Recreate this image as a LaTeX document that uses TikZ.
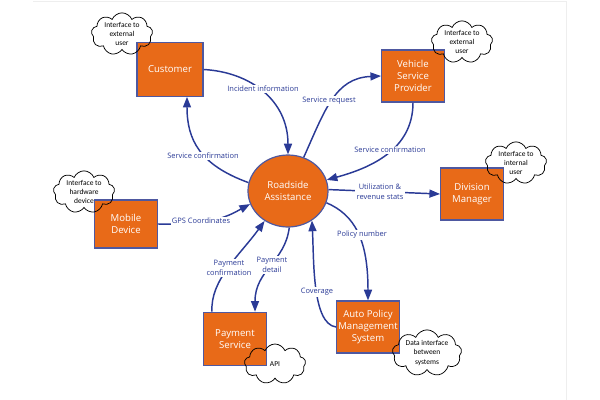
\documentclass[tikz,border=0pt]{standalone}
\usepackage{fontspec}
\setmainfont{Open Sans}
\newfontfamily\cloudfont{Carlito}
\usetikzlibrary{shapes.geometric,shapes.symbols,arrows.meta,calc}
\definecolor{boxorange}{RGB}{232,106,24}
\definecolor{boxborder}{RGB}{78,88,160}
\definecolor{flowblue}{RGB}{42,58,150}
\definecolor{framegray}{RGB}{238,238,238}
\begin{document}
\begin{tikzpicture}[x=0.75pt,y=-0.75pt,
 ent/.style={draw=boxborder, line width=0.9pt, fill=boxorange, text=white, align=center,
   font=\fontsize{7.2}{9.2}\selectfont, minimum width=47pt, minimum height=39pt, inner sep=0pt},
 hub/.style={ellipse, draw=boxborder, line width=0.9pt, fill=boxorange, text=white, align=center,
   font=\fontsize{7.2}{9.2}\selectfont, minimum width=60pt, minimum height=54pt, inner sep=0pt},
 cloudbase/.style={cloud, cloud puffs=9, cloud puff arc=135, cloud ignores aspect,
   minimum width=46pt, minimum height=30pt, inner sep=0pt,
   font=\cloudfont\fontsize{5.6}{6.8}\selectfont, align=center},
 cloudbg/.style={cloudbase, fill=white, text opacity=0},
 cloudfg/.style={cloudbase, draw=black, line width=0.55pt},
 flow/.style={draw=flowblue, line width=1.1pt, -{Triangle[length=8pt,width=6pt]}},
 lbl/.style={fill=white, text=flowblue, font=\fontsize{5.6}{7.4}\selectfont, align=center, inner sep=1pt}
]
\useasboundingbox (0,0) rectangle (600,400);
\draw[framegray, line width=0.6pt] (33,1) -- (566,1) -- (566,400);

% cloud backgrounds
\node[cloudbg] (c1b) at (122,34) {Interface to\\external\\user};
\node[cloudbg] (c2b) at (462,42) {Interface to\\external\\user};
\node[cloudbg] (c3b) at (516,163) {Interface to\\internal\\user};
\node[cloudbg] (c4b) at (84,192) {Interface to\\hardware\\device};
\node[cloudbg] (c5b) at (275,364) {API};
\node[cloudbg, minimum width=52pt] (c6b) at (427,353) {Data interface\\between\\systems};

% entities
\node[ent, minimum width=49.5pt, minimum height=40pt] (cust) at (170,69.5) {Customer};
\node[ent] (vsp) at (413,76) {Vehicle\\Service\\Provider};
\node[ent, minimum height=36pt] (mob) at (126,224) {Mobile\\Device};
\node[ent] (div) at (472,194) {Division\\Manager};
\node[ent, minimum height=40pt] (pay) at (235,339) {Payment\\Service};
\node[ent] (apms) at (368,327) {Auto Policy\\Management\\System};
\node[hub] (ra) at (288,191) {Roadside\\Assistance};

% connectors
\draw[flow] (cust.east) .. controls (250,72) and (288,100) .. (ra.north);
\draw[flow] (ra.168) .. controls (200,165) and (187,140) .. ($(cust.south)+(17,0)$);
\draw[flow] (ra.65) .. controls (325,110) and (335,78) .. (vsp.west);
\draw[flow] (vsp.south) .. controls (413,150) and (370,168) .. (ra.16);
\draw[flow] (mob.east) .. controls (215,225) and (230,215) .. (ra.199);
\draw[flow] ($(pay.north)+(-23,0)$) .. controls (210,280) and (240,255) .. (ra.232);
\draw[flow] (ra.272) .. controls (285,262) and (255,270) .. ($(pay.north)+(20,0)$);
\draw[flow] (apms.west) .. controls (312,324) and (314,260) .. (ra.309);
\draw[flow] (ra.343) .. controls (355,215) and (368,240) .. (apms.north);
\draw[flow] (ra.2) -- (div.west);

% labels
\node[lbl] (l1) at (263,89) {Incident information};
\node[lbl] (l2) at (203,156) {Service confirmation};
\node[lbl] (l3) at (329,101) {Service request};
\node[lbl] (l4) at (390,150) {Service confirmation};
\node[lbl] (l5) at (201,221) {GPS Coordinates};
\node[lbl] (l6) at (229,268) {Payment\\confirmation};
\node[lbl] (l7) at (272,265) {Payment\\detail};
\node[lbl] (l8) at (317,292) {Coverage};
\node[lbl] (l9) at (362,235) {Policy number};
\node[lbl] (l10) at (380,192) {Utilization \&\\revenue stats};

% cloud outlines and text
\node[cloudfg] (c1) at (122,34) {Interface to\\external\\user};
\node[cloudfg] (c2) at (462,42) {Interface to\\external\\user};
\node[cloudfg] (c3) at (516,163) {Interface to\\internal\\user};
\node[cloudfg] (c4) at (84,192) {Interface to\\hardware\\device};
\node[cloudfg] (c5) at (275,364) {API};
\node[cloudfg, minimum width=52pt] (c6) at (427,353) {Data interface\\between\\systems};
\end{tikzpicture}
\end{document}
